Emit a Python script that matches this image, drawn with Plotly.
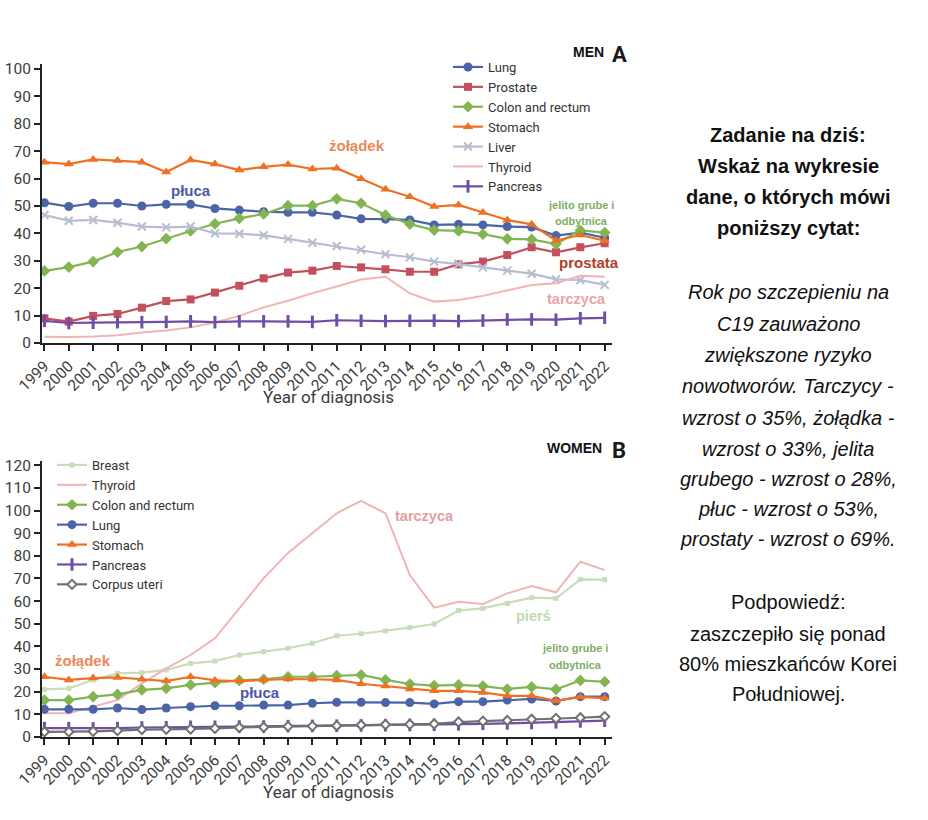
import plotly.graph_objects as go

years = list(range(1999, 2023))

# MEN (panel A)
men_lung = [51.2, 49.8, 51.0, 51.0, 50.0, 50.6, 50.6, 49.1, 48.5, 47.9, 47.7, 47.7, 46.7, 45.3, 45.2, 44.9, 43.1, 43.3, 43.1, 42.5, 42.3, 39.2, 40.3, 38.4]
men_prostate = [9.0, 7.8, 9.9, 10.6, 12.9, 15.3, 15.9, 18.4, 20.9, 23.6, 25.7, 26.4, 28.1, 27.6, 26.9, 26.0, 26.0, 28.7, 29.7, 32.1, 34.9, 33.1, 34.9, 36.4]
men_colon = [26.3, 27.7, 29.7, 33.2, 35.2, 38.1, 40.9, 43.5, 45.5, 47.1, 50.1, 50.1, 52.6, 51.0, 46.7, 43.4, 41.2, 40.9, 39.7, 38.0, 37.8, 36.1, 41.1, 40.3]
men_stomach = [66.0, 65.3, 67.0, 66.6, 66.0, 62.4, 66.8, 65.3, 63.1, 64.3, 65.1, 63.5, 63.8, 59.9, 56.1, 53.4, 49.8, 50.4, 47.6, 44.9, 43.3, 37.4, 39.4, 37.3]
men_liver = [46.7, 44.6, 44.9, 43.9, 42.5, 42.2, 42.5, 40.0, 39.9, 39.3, 38.0, 36.6, 35.4, 34.0, 32.4, 31.3, 29.7, 28.8, 27.6, 26.4, 25.3, 23.2, 23.0, 21.2]
men_thyroid = [2.3, 2.2, 2.4, 2.8, 3.8, 4.6, 5.7, 7.5, 9.9, 13.0, 15.4, 18.2, 20.6, 23.2, 24.2, 18.1, 15.1, 15.7, 17.2, 19.1, 21.2, 21.8, 24.5, 24.2]
men_pancreas = [8.1, 7.3, 7.4, 7.6, 7.6, 7.7, 7.9, 7.6, 7.9, 7.9, 7.9, 7.7, 8.3, 8.1, 8.0, 8.1, 8.2, 8.0, 8.2, 8.6, 8.6, 8.5, 9.0, 9.2]

# WOMEN (panel B)
women_breast = [21.0, 21.5, 25.2, 28.1, 28.4, 29.6, 32.5, 33.5, 36.2, 37.7, 39.2, 41.4, 44.7, 45.6, 46.8, 48.3, 49.9, 55.8, 56.8, 59.0, 61.5, 61.2, 69.6, 69.5]
women_thyroid = [10.5, 10.5, 13.4, 16.3, 23.7, 30.3, 36.2, 43.6, 56.8, 70.1, 81.3, 90.0, 98.8, 104.3, 98.8, 71.5, 57.1, 59.7, 58.7, 63.4, 66.7, 63.9, 77.4, 73.7]
women_colon = [16.3, 16.3, 17.8, 18.8, 20.8, 21.5, 23.0, 24.0, 25.0, 25.5, 26.6, 26.6, 27.1, 27.4, 25.2, 23.4, 22.7, 23.0, 22.5, 21.2, 22.1, 21.0, 25.0, 24.4]
women_lung = [12.2, 12.3, 12.2, 12.8, 12.1, 12.8, 13.4, 13.8, 13.8, 14.1, 14.1, 14.9, 15.3, 15.3, 15.2, 15.2, 14.6, 15.6, 15.6, 16.3, 16.8, 15.9, 17.8, 17.8]
women_stomach = [26.6, 25.2, 26.0, 26.3, 25.5, 24.7, 26.6, 25.0, 24.7, 25.2, 25.6, 25.5, 25.2, 23.5, 22.5, 21.2, 20.4, 20.4, 19.7, 18.2, 18.2, 16.0, 17.7, 17.2]
women_pancreas = [3.9, 3.9, 3.8, 3.9, 4.2, 4.3, 4.5, 4.5, 4.6, 4.6, 4.8, 4.9, 5.0, 5.1, 5.2, 5.3, 5.4, 5.6, 5.8, 6.0, 6.2, 6.5, 6.9, 7.2]
women_corpus = [2.3, 2.3, 2.5, 2.8, 3.3, 3.4, 3.5, 3.8, 4.2, 4.3, 4.7, 4.8, 5.0, 5.3, 5.5, 5.6, 5.8, 6.6, 7.0, 7.3, 7.8, 8.2, 8.5, 9.0]

W, H = 928, 820
def px(x):
    return x / W
def py(y):
    return 1 - y / H

C_LUNG = "#4a64a6"
C_PROS = "#c4505c"
C_COLON = "#82b552"
C_STOM = "#f07022"
C_LIVER = "#b9bdd2"
C_THY = "#f0b4b4"
C_PANC = "#6f4ea6"
C_BREAST = "#c9ddb9"
C_CORPUS = "#707070"

fig = go.Figure()

def add(name, ys, color, symbol, size, xa, ya, legend, width=2.2, mfill=None, mline=0):
    mode = "lines" if symbol is None else "lines+markers"
    marker = dict(color=mfill if mfill else color, size=size, symbol=symbol if symbol else "circle",
                  line=dict(color=color, width=mline))
    fig.add_trace(go.Scatter(x=years, y=ys, name=name, mode=mode, xaxis=xa, yaxis=ya,
                             line=dict(color=color, width=width), marker=marker, legend=legend))

# Men
add("Lung", men_lung, C_LUNG, "circle", 9, "x", "y", "legend")
add("Prostate", men_prostate, C_PROS, "square", 8, "x", "y", "legend")
add("Colon and rectum", men_colon, C_COLON, "diamond", 9, "x", "y", "legend")
add("Stomach", men_stomach, C_STOM, "triangle-up", 9, "x", "y", "legend")
add("Liver", men_liver, C_LIVER, "x-thin", 8, "x", "y", "legend", mline=2)
add("Thyroid", men_thyroid, C_THY, None, 0, "x", "y", "legend", width=2)
add("Pancreas", men_pancreas, C_PANC, "line-ns", 9, "x", "y", "legend", mline=3)

# Women
add("Breast", women_breast, C_BREAST, "square", 5, "x2", "y2", "legend2")
add("Thyroid", women_thyroid, C_THY, None, 0, "x2", "y2", "legend2", width=2)
add("Colon and rectum", women_colon, C_COLON, "diamond", 9, "x2", "y2", "legend2")
add("Lung", women_lung, C_LUNG, "circle", 9, "x2", "y2", "legend2")
add("Stomach", women_stomach, C_STOM, "triangle-up", 9, "x2", "y2", "legend2")
add("Pancreas", women_pancreas, C_PANC, "line-ns", 9, "x2", "y2", "legend2", mline=3)
add("Corpus uteri", women_corpus, C_CORPUS, "diamond", 7, "x2", "y2", "legend2", mfill="white", mline=2)

NARROW = "Roboto, Liberation Sans, sans-serif"
TICKFONT = dict(family=NARROW, size=15.5, color="#3c3c3c")
x_dom = [px(42), px(612)]

xcommon = dict(range=[1998.9, 2022.3], tickmode="array", tickvals=years, ticktext=[str(y) for y in years],
               tickangle=-45, ticks="outside", ticklen=6, tickwidth=1.5, tickcolor="#222",
               showline=True, linecolor="#222", linewidth=2, showgrid=False, zeroline=False,
               tickfont=TICKFONT, domain=x_dom, fixedrange=True, automargin=False)
ycommon = dict(ticks="outside", ticklen=6, tickwidth=1.5, tickcolor="#222", showline=True,
               linecolor="#222", linewidth=2, showgrid=False, zeroline=False, dtick=10,
               tickfont=TICKFONT, fixedrange=True, automargin=False)

LEGFONT = dict(family=NARROW, size=13, color="#333")
fig.update_layout(
    width=W, height=H, margin=dict(l=0, r=0, t=0, b=0, pad=0, autoexpand=False),
    paper_bgcolor="white", plot_bgcolor="white",
    xaxis=dict(**xcommon, anchor="y"),
    yaxis=dict(**ycommon, range=[0, 102], domain=[py(343), py(63.5)], anchor="x"),
    xaxis2=dict(**xcommon, anchor="y2"),
    yaxis2=dict(**ycommon, range=[0, 122], domain=[py(737), py(460.7)], anchor="x2"),
    legend=dict(x=px(448), y=py(52), xanchor="left", yanchor="top", bgcolor="rgba(0,0,0,0)",
                font=LEGFONT, tracegroupgap=0, itemwidth=30),
    legend2=dict(x=px(52), y=py(450), xanchor="left", yanchor="top", bgcolor="rgba(0,0,0,0)",
                 font=LEGFONT, tracegroupgap=0, itemwidth=30),
    showlegend=True,
)

BOLD = "Liberation Sans, Arial, sans-serif"
ann = []
def note(text, x, y, color, size, family=BOLD, xanchor="center", yanchor="middle", bold=True, italic=False):
    t = text
    if bold:
        t = "<b>" + t + "</b>"
    if italic:
        t = "<i>" + t + "</i>"
    ann.append(dict(text=t, x=px(x), y=py(y), xref="paper", yref="paper", showarrow=False,
                    xanchor=xanchor, yanchor=yanchor, font=dict(family=family, size=size, color=color)))

# panel headers
note("MEN", 588, 52, "#111", 14)
note("A", 619, 54, "#1a1a1a", 22, family=NARROW)
note("WOMEN", 574, 448, "#111", 14)
note("B", 619, 450, "#1a1a1a", 22, family=NARROW)

# x axis titles
note("Year of diagnosis", 328, 397, "#3c3c3c", 17, family=NARROW, bold=False)
note("Year of diagnosis", 328, 792, "#3c3c3c", 17, family=NARROW, bold=False)

# Polish labels, men
note("płuca", 191, 190, "#4a5aa8", 15)
note("żołądek", 357, 146, "#ea8a5a", 15)
note("jelito grube i", 581, 205, "#7fae62", 11)
note("odbytnica", 581, 221, "#7fae62", 11)
note("prostata", 589, 262, "#b0402a", 15)
note("tarczyca", 576, 299, "#eba5a5", 14.5)

# Polish labels, women
note("tarczyca", 424, 516, "#e3a0a0", 14.5)
note("pierś", 533, 616, "#c3d8b4", 14.5)
note("jelito grube i", 575, 648, "#7fae62", 11)
note("odbytnica", 575, 665, "#7fae62", 11)
note("żołądek", 83, 660, "#ea8a5a", 15)
note("płuca", 260, 692, "#4a5aa8", 15)

# right-hand text
RT = "Liberation Sans, Arial, sans-serif"
bold_lines = ["Zadanie na dziś:", "Wskaż na wykresie", "dane, o których mówi", "poniższy cytat:"]
bold_y = [135, 166, 197, 228]
italic_lines = ["Rok po szczepieniu na", "C19 zauważono", "zwiększone ryzyko", "nowotworów. Tarczycy -",
                "wzrost o 35%, żołądka -", "wzrost o 33%, jelita", "grubego - wzrost o 28%,",
                "płuc - wzrost o 53%,", "prostaty - wzrost o 69%."]
italic_y = [292, 324, 355, 386, 418, 449, 479, 509, 539]
plain_lines = ["Podpowiedź:", "zaszczepiło się ponad", "80% mieszkańców Korei", "Południowej."]
plain_y = [602, 634, 664, 694]
for t, y in zip(bold_lines, bold_y):
    note(t, 788, y, "#111", 20, family=RT, bold=True)
for t, y in zip(italic_lines, italic_y):
    note(t, 788, y, "#111", 20, family=RT, bold=False, italic=True)
for t, y in zip(plain_lines, plain_y):
    note(t, 788, y, "#111", 20, family=RT, bold=False)

fig.update_layout(annotations=ann)
fig.write_html("out.html", config={"displayModeBar": False},
               post_script="document.body.style.margin='0';document.body.style.padding='0';"
                           "document.body.style.overflow='hidden';")
